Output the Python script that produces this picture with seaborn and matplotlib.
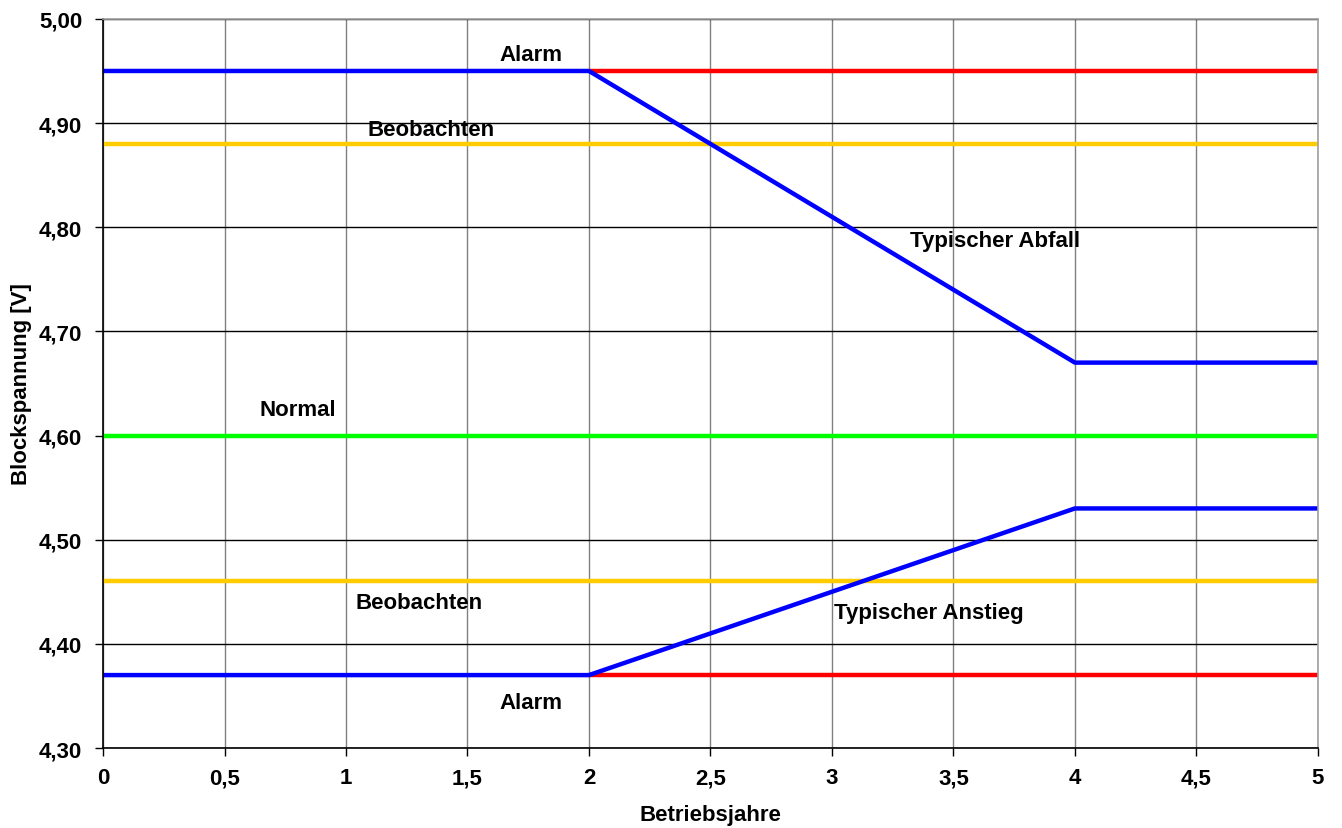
import matplotlib
matplotlib.use("Agg")
import matplotlib.pyplot as plt
import matplotlib.ticker as mticker
import numpy as np
import pandas as pd
import seaborn as sns

# data
years = [0, 2, 4, 5]
abfall = [4.95, 4.95, 4.67, 4.67]
anstieg = [4.37, 4.37, 4.53, 4.53]

alarm_x = [2, 5]
alarm_oben = [4.95, 4.95]
alarm_unten = [4.37, 4.37]

full_x = [0, 5]
beob_oben = [4.88, 4.88]
beob_unten = [4.46, 4.46]
normal = [4.60, 4.60]

labels = ["Alarm", "Beobachten", "Typischer Abfall", "Normal",
          "Beobachten", "Typischer Anstieg", "Alarm"]
label_x = [1.76, 1.35, 3.67, 0.80, 1.30, 3.40, 1.76]
label_y = [4.966, 4.894, 4.787, 4.625, 4.440, 4.430, 4.344]

sns.set_style("white")
plt.rcParams['font.family'] = ['Liberation Sans', 'DejaVu Sans']
plt.rcParams['font.weight'] = 'bold'
plt.rcParams['text.color'] = 'black'
plt.rcParams['axes.labelcolor'] = 'black'

fig = plt.figure(figsize=(13.42, 8.29), dpi=100)
ax = fig.add_axes([0.0768, 0.0965, 0.9052, 0.8795])

lw = 3.2
fs = 16
red, yellow, green, blue = '#FF0000', '#FFCC00', '#00FF00', '#0000FF'

sns.lineplot(x=alarm_x, y=alarm_oben, ax=ax, color=red, lw=lw)
sns.lineplot(x=alarm_x, y=alarm_unten, ax=ax, color=red, lw=lw)
sns.lineplot(x=full_x, y=beob_oben, ax=ax, color=yellow, lw=lw)
sns.lineplot(x=full_x, y=beob_unten, ax=ax, color=yellow, lw=lw)
sns.lineplot(x=full_x, y=normal, ax=ax, color=green, lw=lw)
sns.lineplot(x=years, y=abfall, ax=ax, color=blue, lw=lw)
sns.lineplot(x=years, y=anstieg, ax=ax, color=blue, lw=lw)

for t, x, y in zip(labels, label_x, label_y):
    ax.text(x, y, t, ha='center', va='center', fontsize=fs, fontweight='bold',
            color='black')

ax.set_xlim(0, 5)
ax.set_ylim(4.30, 5.00)
ax.set_xticks(np.arange(0, 5.01, 0.5))
ax.set_yticks(np.arange(4.30, 5.001, 0.10))
ax.xaxis.set_major_formatter(mticker.FuncFormatter(
    lambda v, p: (f"{v:g}").replace('.', ',')))
ax.yaxis.set_major_formatter(mticker.FuncFormatter(
    lambda v, p: f"{v:.2f}".replace('.', ',')))
ax.tick_params(direction='out', length=6, width=1, labelsize=fs, colors='black',
               left=True, bottom=True)
ax.tick_params(axis='x', pad=8)
ax.tick_params(axis='y', pad=9)
for lab in ax.get_xticklabels() + ax.get_yticklabels():
    lab.set_fontweight('bold')

ax.grid(axis='x', color='#808080', lw=1)
ax.grid(axis='y', color='black', lw=1)
ax.set_axisbelow(True)
for s in ['left', 'bottom']:
    ax.spines[s].set_color('black')
for s in ['top', 'right']:
    ax.spines[s].set_color('#A0A0A0')
for s in ax.spines.values():
    s.set_linewidth(1.2)

ax.set_xlabel("Betriebsjahre", fontsize=fs, fontweight='bold', labelpad=11)
ax.set_ylabel("Blockspannung [V]", fontsize=fs, fontweight='bold', labelpad=5)

fig.savefig("out.png", dpi=100)
